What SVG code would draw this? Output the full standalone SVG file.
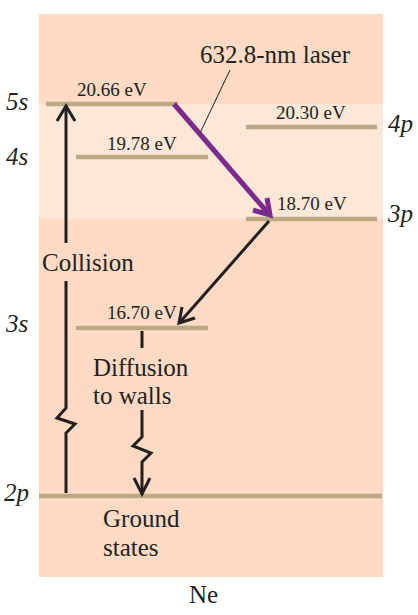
<svg xmlns="http://www.w3.org/2000/svg" width="418" height="615" viewBox="0 0 418 615">
<style>
text{font-family:"Liberation Serif","Times New Roman",serif;fill:#231f20}
.ev{font-size:19px}
.lbl{font-size:25px}
.orb{font-size:25px;font-style:italic}
.lvl{stroke:#b9a985;stroke-width:4.5;fill:none}
.blk{stroke:#231f20;stroke-width:3;fill:none;stroke-linejoin:miter}
.pur{stroke:#7b2a8e;stroke-width:5;fill:none}
</style>
<g id="background">
<rect x="39" y="14" width="344" height="563" fill="#fddac3"/>
<rect x="39" y="104" width="344" height="115" fill="#fde7d7"/>
</g>
<g id="level-5s">
<line class="lvl" x1="46" y1="104" x2="178" y2="104"/>
<text class="ev" x="77" y="96">20.66 eV</text>
<text class="orb" x="6" y="110">5s</text>
</g>
<g id="level-4s">
<line class="lvl" x1="76" y1="157" x2="208" y2="157"/>
<text class="ev" x="107" y="150">19.78 eV</text>
<text class="orb" x="6" y="165">4s</text>
</g>
<g id="level-4p">
<line class="lvl" x1="246" y1="127" x2="377" y2="127"/>
<text class="ev" x="276" y="119">20.30 eV</text>
<text class="orb" x="388" y="132">4p</text>
</g>
<g id="level-3p">
<line class="lvl" x1="246" y1="219" x2="377" y2="219"/>
<text class="ev" x="277" y="210">18.70 eV</text>
<text class="orb" x="388" y="222">3p</text>
</g>
<g id="level-3s">
<line class="lvl" x1="76" y1="328" x2="208" y2="328"/>
<text class="ev" x="107" y="319">16.70 eV</text>
<text class="orb" x="6" y="332">3s</text>
</g>
<g id="level-2p">
<line class="lvl" x1="39" y1="496" x2="382" y2="496"/>
<text class="orb" x="4" y="501">2p</text>
<text class="lbl" x="103" y="527">Ground</text>
<text class="lbl" x="103" y="556">states</text>
</g>
<g id="connectors">
<polyline class="blk" points="66,493 66,433 75,424 57,418 66,408 66,281"/>
<line class="blk" x1="66" y1="243" x2="66" y2="106"/>
<polyline class="blk" points="57,121 66,106 75,121"/>
<polyline class="pur" points="174,104 268,213"/>
<polyline class="pur" points="253,210 270,215 267,198" stroke-linejoin="miter"/>
<line stroke="#231f20" stroke-width="1" x1="200" y1="133" x2="230" y2="70"/>
<line class="blk" x1="269" y1="221" x2="181" y2="321"/>
<polyline class="blk" points="182,307 179,323 195,318"/>
<line class="blk" x1="142" y1="331" x2="142" y2="348"/>
<polyline class="blk" points="142,410 142,437 133,446 151,453 142,462 142,494"/>
<polyline class="blk" points="134,478 142,494 150,478"/>
</g>
<g id="labels">
<text class="lbl" x="200" y="63">632.8-nm laser</text>
<text class="lbl" x="42" y="271">Collision</text>
<text class="lbl" x="93" y="376">Diffusion</text>
<text class="lbl" x="93" y="404">to walls</text>
<text class="lbl" x="189" y="603">Ne</text>
</g>
</svg>
